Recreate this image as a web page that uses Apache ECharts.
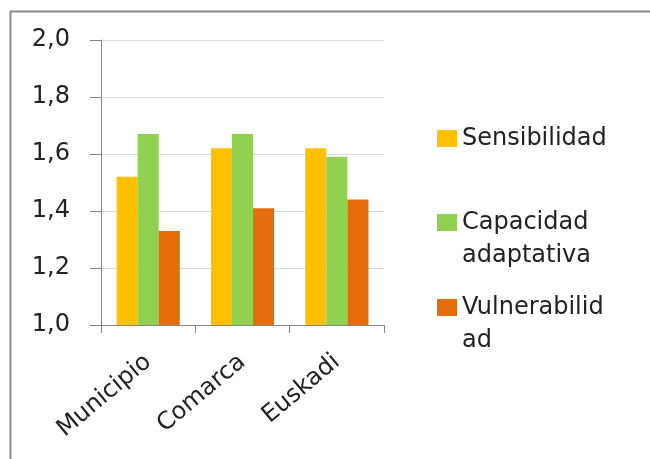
<!DOCTYPE html>
<html>
<head>
<meta charset="utf-8">
<script src="https://cdn.jsdelivr.net/npm/echarts@6/dist/echarts.min.js"></script>
<style>html,body{margin:0;padding:0;background:#fff;}#c{width:650px;height:459px;}</style>
</head>
<body>
<div id="c"></div>
<script>
var categories = ['Municipio', 'Comarca', 'Euskadi'];
var seriesNames = ['Sensibilidad', 'Capacidad adaptativa', 'Vulnerabilidad'];
var sensibilidad = [1.52, 1.62, 1.62];
var capacidad = [1.67, 1.67, 1.59];
var vulnerabilidad = [1.33, 1.41, 1.44];
var yTicks = [1.0, 1.2, 1.4, 1.6, 1.8, 2.0];
var legendLabels = ['Sensibilidad', '\u200b\nCapacidad\nadaptativa', '\u200b\nVulnerabilid\nad'];
var colors = ['#FFC000', '#92D050', '#E46C0A'];

var FONT = 'DejaVu Sans';
var chart = echarts.init(document.getElementById('c'), null, {renderer: 'canvas'});

function mkLegend(i, top) {
  return {
    orient: 'vertical', left: 437, top: top, padding: 0,
    itemWidth: 20, itemHeight: 17, icon: 'rect',
    data: [seriesNames[i]],
    formatter: function () { return legendLabels[i]; },
    textStyle: {fontFamily: FONT, fontSize: 24, color: '#222', lineHeight: 33}
  };
}

chart.setOption({
  animation: false,
  color: colors,
  graphic: [{type: 'rect', left: 8, top: 9, shape: {width: 700, height: 500},
    style: {fill: 'none', stroke: '#8c8c8c', lineWidth: 2}, silent: true}],
  grid: {left: 101, top: 40, right: 266, bottom: 134, containLabel: false},
  legend: [mkLegend(0, 122), mkLegend(1, 173), mkLegend(2, 258)],
  xAxis: {
    type: 'category', data: categories,
    axisLine: {lineStyle: {color: '#868686', width: 1}},
    axisTick: {show: true, length: 8, alignWithLabel: false, lineStyle: {color: '#868686'}},
    axisLabel: {rotate: 40, margin: 34, fontFamily: FONT, fontSize: 24, color: '#222', interval: 0},
    splitLine: {show: false}
  },
  yAxis: {
    type: 'value', min: yTicks[0], max: yTicks[yTicks.length - 1], interval: 0.2,
    axisLine: {show: true, lineStyle: {color: '#868686', width: 1}},
    axisTick: {show: true, length: 11, inside: false, lineStyle: {color: '#868686'}},
    axisLabel: {margin: 31, fontFamily: FONT, fontSize: 24, color: '#222',
      formatter: function (v) { return v.toFixed(1).replace('.', ','); }},
    splitLine: {show: true, lineStyle: {color: '#d9d9d9', width: 1}}
  },
  series: [
    {name: seriesNames[0], type: 'bar', data: sensibilidad, barGap: '0%', barCategoryGap: '33%'},
    {name: seriesNames[1], type: 'bar', data: capacidad, barGap: '0%', barCategoryGap: '33%'},
    {name: seriesNames[2], type: 'bar', data: vulnerabilidad, barGap: '0%', barCategoryGap: '33%'}
  ]
});
</script>
</body>
</html>
